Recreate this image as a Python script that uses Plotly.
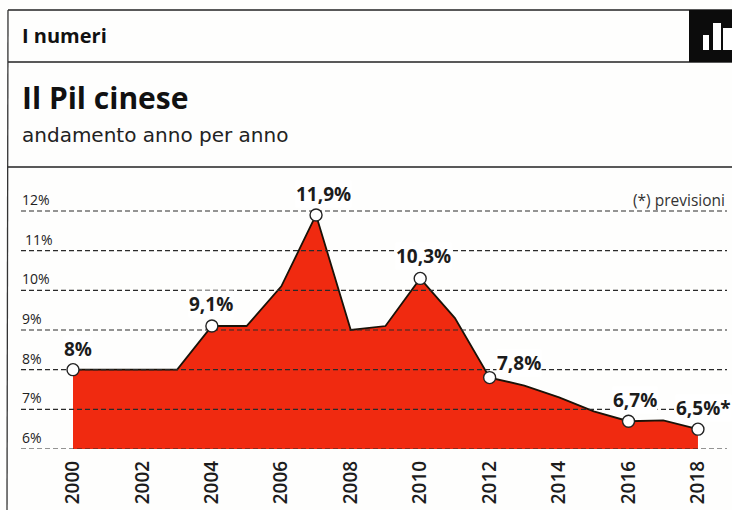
import plotly.graph_objects as go

# GDP growth, % per year
years = list(range(2000, 2019))
growth = [8, 8, 8, 8, 9.1, 9.1, 10.1, 11.9, 9.0, 9.1, 10.3, 9.3, 7.8, 7.6, 7.3, 6.95, 6.7, 6.72, 6.5]

# Highlighted points with their printed labels
label_years = [2000, 2004, 2007, 2010, 2012, 2016, 2018]
label_texts = ["8%", "9,1%", "11,9%", "10,3%", "7,8%", "6,7%", "6,5%*"]
label_xshift = [5, -1, 7, 3, 29, 6, 6]
label_yshift = [21, 22, 21, 22, 15, 21, 21]

y_ticks = [6, 7, 8, 9, 10, 11, 12]
y_tick_labels = ["6%", "7%", "8%", "9%", "10%", "11%", "12%"]
x_ticks = list(range(2000, 2019, 2))

W, H = 732, 510
# Plot window in pixels; axis ranges follow from the scale of the drawing
L, R, T, B = 21, 727, 170, 449
per_year = 34.72
per_point = 39.67
x_range = [2000 - (73 - L) / per_year, 2000 + (R - 73) / per_year]
y_range = [6, 6 + (B - T) / per_point]

INK = "#1c1c1c"
FONT = "Open Sans, sans-serif"
WIDE = "DejaVu Sans, sans-serif"


def px(x):
    # page pixel to horizontal paper fraction
    return (x - L) / (R - L)


def py(y):
    # page pixel to vertical paper fraction
    return (B - y) / (B - T)


fig = go.Figure()

# Red area under the growth line
fig.add_trace(go.Scatter(
    x=years, y=growth, mode="lines", fill="tozeroy", fillcolor="#f02a10",
    line=dict(color="#1a1208", width=1.8), hoverinfo="skip", showlegend=False,
))

# Dashed reference lines sit on top of the area
for v in y_ticks:
    fig.add_trace(go.Scatter(
        x=x_range, y=[v, v], mode="lines",
        line=dict(color="#2a2a2a", width=1.2, dash="5px,3px"),
        hoverinfo="skip", showlegend=False,
    ))

# Open circles at the labelled years
fig.add_trace(go.Scatter(
    x=label_years, y=[growth[years.index(y)] for y in label_years], mode="markers",
    marker=dict(size=12, color="white", line=dict(color="#222222", width=1.4)),
    hoverinfo="skip", showlegend=False,
))

annotations = []
for yr, txt, dx, dy in zip(label_years, label_texts, label_xshift, label_yshift):
    annotations.append(dict(
        x=yr, y=growth[years.index(yr)], text=f"<b>{txt}</b>", showarrow=False,
        xshift=dx, yshift=dy, font=dict(family=FONT, size=19, color=INK),
        bgcolor="white", borderpad=0,
    ))

# Percentage labels resting on their reference lines
for v, txt in zip(y_ticks, y_tick_labels):
    annotations.append(dict(
        xref="paper", x=0, xanchor="left", xshift=-1 if v != 11 else 2,
        y=v, yanchor="bottom", yshift=0, text=txt, showarrow=False,
        font=dict(family=FONT, size=14, color="#222222"),
    ))

# Header texts
annotations += [
    dict(xref="paper", yref="paper", x=px(20), y=py(36), xanchor="left", yanchor="middle",
         text="<b>I numeri</b>", showarrow=False, font=dict(family=FONT, size=20, color="#111111")),
    dict(xref="paper", yref="paper", x=px(20), y=py(97), xanchor="left", yanchor="middle",
         text="<b>Il Pil cinese</b>", showarrow=False, font=dict(family=FONT, size=30, color="#111111")),
    dict(xref="paper", yref="paper", x=px(20), y=py(135), xanchor="left", yanchor="middle",
         text="andamento anno per anno", showarrow=False, font=dict(family=WIDE, size=20, color="#222222")),
    dict(xref="paper", yref="paper", x=px(727), y=py(200), xanchor="right", yanchor="middle",
         text="(*) previsioni", showarrow=False, font=dict(family=FONT, size=15.5, color="#333333")),
]

# Frame, header rules and the black icon box
shapes = []
for y0 in (10, 62, 167):
    shapes.append(dict(type="line", xref="paper", yref="paper", x0=px(8), x1=px(732), y0=py(y0), y1=py(y0),
                       line=dict(color="#222222", width=1.3)))
shapes.append(dict(type="line", xref="paper", yref="paper", x0=px(8), x1=px(7), y0=py(10), y1=py(510),
                   line=dict(color="#333333", width=1.3)))
shapes.append(dict(type="rect", xref="paper", yref="paper", x0=px(689), x1=px(732), y0=py(62), y1=py(10),
                   fillcolor="#0c0c0c", line=dict(width=0)))
for x0, x1, top in ((703, 709, 35), (713, 721, 23), (723, 732, 28)):
    shapes.append(dict(type="rect", xref="paper", yref="paper", x0=px(x0), x1=px(x1), y0=py(50), y1=py(top),
                       fillcolor="white", line=dict(width=0)))

fig.update_layout(
    width=W, height=H, margin=dict(l=L, r=W - R, t=T, b=H - B),
    paper_bgcolor="#fefefd", plot_bgcolor="rgba(0,0,0,0)",
    showlegend=False, annotations=annotations, shapes=shapes,
    xaxis=dict(range=x_range, tickmode="array", tickvals=x_ticks, ticktext=[str(t) for t in x_ticks],
               tickangle=-90, showgrid=False, zeroline=False, showline=False, ticks="",
               tickfont=dict(family=FONT, size=19, color=INK, weight=600), ticklabelstandoff=7),
    yaxis=dict(range=y_range, tickvals=y_ticks, showticklabels=False, showgrid=False,
               zeroline=False, showline=False, ticks=""),
)

fig.write_html("out.html", config=dict(displayModeBar=False))
